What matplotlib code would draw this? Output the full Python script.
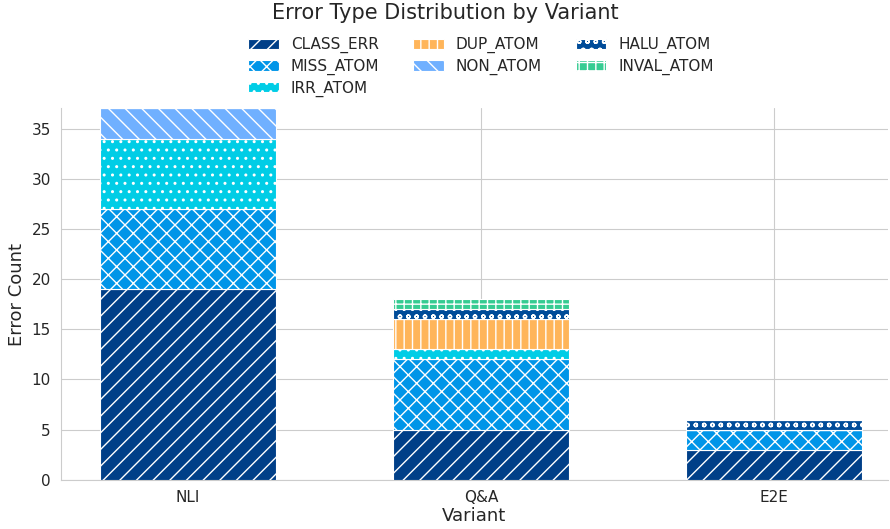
import numpy as np
import matplotlib
matplotlib.use("Agg")
import matplotlib.pyplot as plt
import seaborn as sns

sns.set_style("whitegrid")
plt.rcParams["font.family"] = ["DejaVu Sans"]
plt.rcParams["hatch.color"] = "white"
plt.rcParams["hatch.linewidth"] = 1.0

variants = ["NLI", "Q&A", "E2E"]
error_types = ["CLASS_ERR", "MISS_ATOM", "IRR_ATOM", "DUP_ATOM",
               "NON_ATOM", "HALU_ATOM", "INVAL_ATOM"]
class_err = [19, 5, 3]
miss_atom = [8, 7, 2]
irr_atom = [7, 1, 0]
dup_atom = [0, 3, 0]
non_atom = [3, 0, 0]
halu_atom = [0, 1, 1]
inval_atom = [0, 1, 0]

colors = ["#003f88", "#0095e8", "#00cde6", "#ffb55a",
          "#70b0ff", "#004c99", "#35cc92"]
hatches = ["//", "xx", "..", "||", "\\\\", "oo", "++"]

series = [class_err, miss_atom, irr_atom, dup_atom,
          non_atom, halu_atom, inval_atom]

fig, ax = plt.subplots(figsize=(8.9, 5.29), dpi=100)
x = np.arange(len(variants))
bottom = np.zeros(len(variants))
for name, vals, c, h in zip(error_types, series, colors, hatches):
    vals = np.array(vals, dtype=float)
    ax.bar(x, vals, 0.6, bottom=bottom, color=c, hatch=h,
           edgecolor="white", linewidth=0.8, label=name, zorder=3)
    bottom += vals

ax.set_xticks(x)
ax.set_xticklabels(variants, fontsize=11)
ax.tick_params(axis="y", labelsize=11)
ax.set_xlim(-0.435, 2.39)
ax.set_ylim(0, 37)
ax.set_xlabel("Variant", fontsize=13, labelpad=2)
ax.set_ylabel("Error Count", fontsize=13)
ax.set_axisbelow(True)
for s in ("top", "right"):
    ax.spines[s].set_visible(False)
for s in ("left", "bottom"):
    ax.spines[s].set_color("#cccccc")

ax.legend(loc="lower center", bbox_to_anchor=(0.508, 0.995), ncol=3,
          frameon=False, fontsize=11, handlelength=2.0,
          columnspacing=2.2, handletextpad=0.8, labelspacing=0.35)
fig.suptitle("Error Type Distribution by Variant", fontsize=15, y=0.995)
fig.subplots_adjust(left=0.068, right=0.998, top=0.795, bottom=0.093)
fig.savefig("out.png", dpi=100)
